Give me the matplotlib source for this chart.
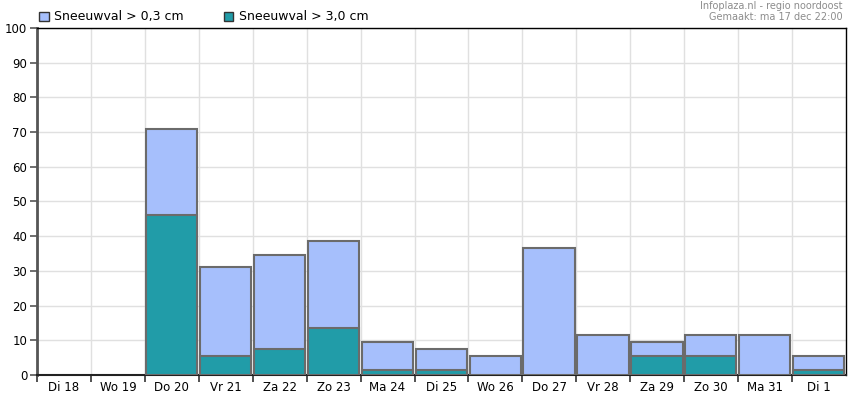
import matplotlib
matplotlib.use('Agg')
import matplotlib.pyplot as plt
from matplotlib.patches import Patch

days = ['Di 18', 'Wo 19', 'Do 20', 'Vr 21', 'Za 22', 'Zo 23', 'Ma 24',
        'Di 25', 'Wo 26', 'Do 27', 'Vr 28', 'Za 29', 'Zo 30', 'Ma 31', 'Di 1']
kans_03 = [0, 0, 71, 31, 34.5, 38.5, 9.5, 7.5, 5.5, 36.5, 11.5, 9.5, 11.5, 11.5, 5.5]
kans_30 = [0, 0, 46, 5.5, 7.5, 13.5, 1.5, 1.5, 0, 0, 0, 5.5, 5.5, 0, 1.5]

blue = '#a6bffc'
teal = '#219ca8'
edge = '#6b6b6b'

plt.rcParams['font.family'] = ['DejaVu Sans']
fig = plt.figure(figsize=(8.61, 4.04), dpi=100)
ax = fig.add_axes([0.043, 0.0718, 0.9395, 0.8589])

n = len(days)
xs = list(range(n))
for i in xs:
    if kans_03[i] > 0:
        ax.bar(i + 0.02, kans_03[i], width=0.95, align='edge', color=blue,
               edgecolor=edge, linewidth=1.5, zorder=3)
    if kans_30[i] > 0:
        ax.bar(i + 0.02, kans_30[i], width=0.95, align='edge', color=teal,
               edgecolor=edge, linewidth=1.5, zorder=4)

ax.set_xlim(0, n)
ax.set_ylim(0, 100)
ax.set_xticks(range(n))
ax.set_xticklabels([])
ax.set_xticks([i + 0.5 for i in xs], minor=True)
ax.set_xticklabels(days, minor=True)
ax.tick_params(axis='x', which='minor', length=0, labelsize=8.5, pad=4)
ax.tick_params(axis='x', which='major', length=5, width=1.2, color='#333333')
ax.set_yticks(range(0, 101, 10))
ax.tick_params(axis='y', length=5, width=1.2, color='#555555', labelsize=8.5, pad=2)

ax.grid(True, which='major', color='#e0e0e0', linewidth=1, zorder=0)
ax.set_axisbelow(True)

ax.spines['left'].set_color('#555555')
ax.spines['left'].set_linewidth(2)
ax.spines['bottom'].set_color('#222222')
ax.spines['bottom'].set_linewidth(1.5)
ax.spines['top'].set_linewidth(1)
ax.spines['right'].set_linewidth(1)

handles = [Patch(facecolor=blue, edgecolor='#333333', label='Sneeuwval > 0,3 cm'),
           Patch(facecolor=teal, edgecolor='#333333', label='Sneeuwval > 3,0 cm')]
fig.legend(handles=handles, loc='center left', bbox_to_anchor=(0.04, 0.958), ncol=2,
           frameon=False, fontsize=9, handlelength=0.75, handleheight=0.75,
           handletextpad=0.45, columnspacing=3.2, borderaxespad=0)

fig.text(0.979, 0.997, 'Infoplaza.nl - regio noordoost\nGemaakt: ma 17 dec 22:00',
         ha='right', va='top', fontsize=7, color='#8c8c8c', linespacing=1.1)

fig.savefig('out.png', dpi=100)
